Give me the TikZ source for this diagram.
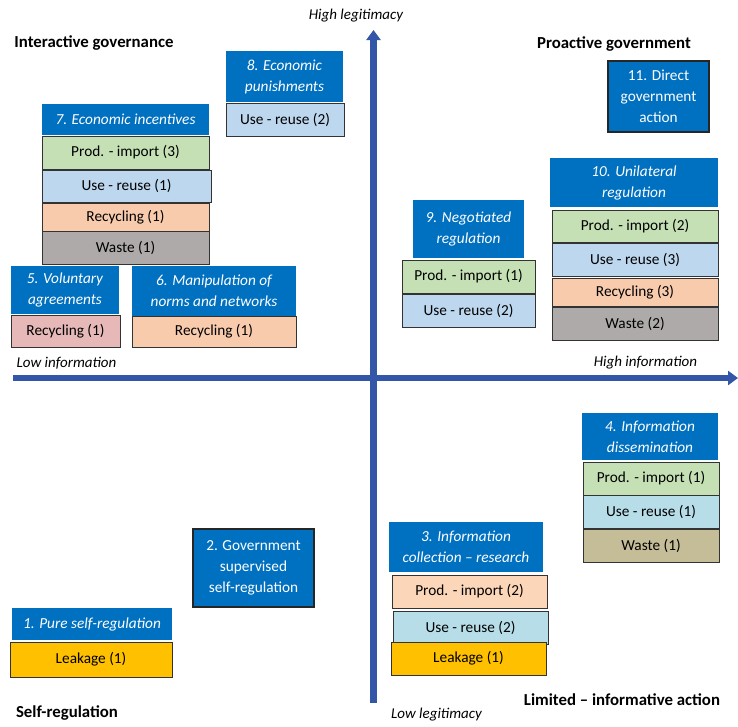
\documentclass[tikz,border=0pt]{standalone}
\usepackage{fontspec}
\setmainfont{Carlito}
\usetikzlibrary{arrows.meta}

\definecolor{hdrblue}{RGB}{0,112,192}
\definecolor{axisblue}{RGB}{52,86,168}
\definecolor{cgreen}{RGB}{197,224,180}
\definecolor{cblue}{RGB}{189,215,238}
\definecolor{corange}{RGB}{248,203,173}
\definecolor{cgray}{RGB}{174,170,170}
\definecolor{cpink}{RGB}{230,185,184}
\definecolor{cgold}{RGB}{255,192,0}
\definecolor{cpeach}{RGB}{251,214,184}
\definecolor{ccyan}{RGB}{183,222,232}
\definecolor{ctan}{RGB}{196,189,151}

\tikzset{
  hdr/.style={fill=hdrblue, text=white, inner sep=0pt, align=center,
              font=\fontsize{15.3}{21}\selectfont\itshape},
  act/.style={fill=hdrblue, text=white, draw=black!85, line width=1.2pt,
              inner sep=0pt, align=center},
  item/.style={draw=black!80, line width=0.9pt, inner sep=0pt},
  sz/.style 2 args={minimum width=#1pt, minimum height=#2pt},
  axislbl/.style={font=\fontsize{15}{17}\selectfont\itshape},
  quad/.style={font=\fontsize{16.8}{19}\selectfont\bfseries}
}

\begin{document}
\begin{tikzpicture}[
  x=1pt, y=-1pt,
  font=\fontsize{15.3}{21}\selectfont
]
\useasboundingbox (0,0) rectangle (738,726);

% ----- axes -----
\coordinate (vbot) at (373.5,703);
\coordinate (vtop) at (373.5,30);
\coordinate (hleft) at (13,378);
\coordinate (hright) at (738,378);
\draw[axisblue, line width=6.5pt, -{Triangle[length=10pt,width=14pt]}] (vbot) -- (vtop);
\draw[axisblue, line width=6.5pt, -{Triangle[length=10pt,width=14pt]}] (hleft) -- (hright);

% ----- axis labels -----
\node[axislbl] (hileg) at (356,16) {High legitimacy};
\node[axislbl] (loleg) at (436.5,715) {Low legitimacy};
\node[axislbl] (loinf) at (66.5,363) {Low information};
\node[axislbl] (hiinf) at (645.5,363) {High information};

% ----- quadrant titles -----
\node[quad] (qint) at (94,43) {Interactive governance};
\node[quad] (qpro) at (614,44) {Proactive government};
\node[quad] (qself) at (67,713) {Self-regulation};
\node[quad] (qlim) at (622,700) {Limited -- informative action};

% ----- upper left -----
\node[hdr, sz={117}{51}] (h8) at (284.5,76.5) {8. Economic\\punishments};
\node[item, fill=cblue, sz={118}{33}] (i8) at (285,119.5) {Use - reuse (2)};

\node[hdr, sz={167}{31}] (h7) at (125.5,119.5) {7. Economic incentives};
\node[item, fill=cgreen, sz={167}{33}] (i7a) at (125.5,152.5) {Prod. - import (3)};
\node[item, fill=cblue, sz={169}{32}] (i7b) at (126.5,186) {Use - reuse (1)};
\node[item, fill=corange, sz={167}{28}] (i7c) at (125.5,217) {Recycling (1)};
\node[item, fill=cgray, sz={167}{33}] (i7d) at (125.5,247.5) {Waste (1)};

\node[hdr, sz={108}{48}] (h5) at (65,290) {5. Voluntary\\agreements};
\node[item, fill=cpink, sz={109}{32}] (i5) at (65.5,331) {Recycling (1)};

\node[hdr, sz={164}{50}] (h6) at (214,291) {6. Manipulation of\\norms and networks};
\node[item, fill=corange, sz={164}{31}] (i6) at (214,331.5) {Recycling (1)};

% ----- upper right -----
\node[act, sz={101}{71}] (n11) at (658.5,96.5) {11. Direct\\government\\action};

\node[hdr, sz={168}{49}] (h10) at (634,182.5) {10. Unilateral\\regulation};
\node[item, fill=cgreen, sz={166}{32}] (i10a) at (635,226) {Prod. - import (2)};
\node[item, fill=cblue, sz={166}{33}] (i10b) at (635,259.5) {Use - reuse (3)};
\node[item, fill=corange, sz={166}{28}] (i10c) at (635,292) {Recycling (3)};
\node[item, fill=cgray, sz={166}{33}] (i10d) at (635,323.5) {Waste (2)};

\node[hdr, sz={111}{58}] (h9) at (468.5,229) {9. Negotiated\\regulation};
\node[item, fill=cgreen, sz={133}{33}] (i9a) at (468.5,276.5) {Prod. - import (1)};
\node[item, fill=cblue, sz={133}{33}] (i9b) at (468.5,310.5) {Use - reuse (2)};

% ----- lower left -----
\node[act, sz={121}{78}] (n2) at (253.5,568) {2. Government\\supervised\\self-regulation};

\node[hdr, sz={160}{32}] (h1) at (92,624) {1. Pure self-regulation};
\node[item, fill=cgold, sz={162}{35}] (i1) at (91,659.5) {Leakage (1)};

% ----- lower right -----
\node[hdr, sz={136}{47}] (h4) at (650,436.5) {4. Information\\dissemination};
\node[item, fill=cgreen, sz={136}{33}] (i4a) at (651,478.5) {Prod. - import (1)};
\node[item, fill=ccyan, sz={136}{33}] (i4b) at (651,511.5) {Use - reuse (1)};
\node[item, fill=ctan, sz={136}{33}] (i4c) at (651,545.5) {Waste (1)};

\node[hdr, sz={154}{50}] (h3) at (466,547) {3. Information\\collection -- research};
\node[item, fill=cpeach, sz={155}{33}] (i3a) at (469.5,591.5) {Prod. - import (2)};
\node[item, fill=ccyan, sz={155}{33}] (i3b) at (470.5,627.5) {Use - reuse (2)};
\node[item, fill=cgold, sz={155}{33}] (i3c) at (468.5,658.5) {Leakage (1)};
\end{tikzpicture}
\end{document}
